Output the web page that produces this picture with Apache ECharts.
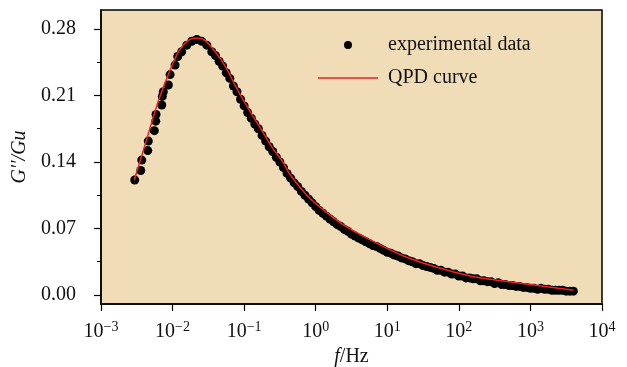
<!DOCTYPE html>
<html>
<head>
<meta charset="utf-8">
<script src="https://cdn.jsdelivr.net/npm/echarts@6/dist/echarts.min.js"></script>
<style>
  html, body { margin: 0; padding: 0; background: #fff; }
  #chart { width: 627px; height: 367px; }
</style>
</head>
<body>
<div id="chart"></div>
<script>
  // experimental data: frequency (Hz) and G''/Gu
  var expFreq = [
    0.00296, 0.00359, 0.00371, 0.00450, 0.00458, 0.00556, 0.00582, 0.00587,
    0.00706, 0.00719, 0.00743, 0.00873, 0.00923, 0.01084, 0.0118, 0.0134,
    0.0158, 0.0185, 0.0218, 0.0256, 0.0301, 0.0353,
    0.0398, 0.0501, 0.0631, 0.0794, 0.1, 0.126, 0.158, 0.2, 0.251, 0.316,
    0.398, 0.501, 0.631, 0.794, 1, 1.26, 1.58, 2.0, 2.51, 3.16,
    3.98, 5.01, 6.31, 7.94, 10, 12.6, 15.8, 20, 25.1, 31.6,
    39.8, 50.1, 63.1, 79.4, 100, 126, 158, 200, 251, 316,
    398, 501, 631, 794, 1000, 1260, 1580, 2000, 2510, 3160, 3980
  ];
  var expVal = [
    0.121, 0.131, 0.142, 0.152, 0.162, 0.173, 0.183, 0.190,
    0.200, 0.209, 0.214, 0.221, 0.232, 0.242, 0.251, 0.256,
    0.263, 0.267, 0.269, 0.267, 0.263, 0.256,
    0.252, 0.241, 0.228, 0.214, 0.199, 0.186, 0.175, 0.162, 0.151, 0.140,
    0.128, 0.118, 0.109, 0.101, 0.093, 0.086, 0.080, 0.074, 0.069, 0.064,
    0.060, 0.056, 0.052, 0.049, 0.045, 0.042, 0.039, 0.036, 0.033, 0.031,
    0.029, 0.026, 0.024, 0.022, 0.020, 0.018, 0.017, 0.015, 0.014, 0.012,
    0.011, 0.010, 0.009, 0.008, 0.007, 0.006, 0.006, 0.005, 0.005, 0.004, 0.004
  ];
  // second sweep of measured points on the falling side
  var expFreqB = [
    0.0447, 0.0562, 0.0708, 0.0891, 0.112, 0.141, 0.178, 0.224, 0.282, 0.355,
    0.447, 0.562, 0.708, 0.891, 1.12, 1.41, 1.78, 2.24, 2.82, 3.55,
    4.47, 5.62, 7.08, 8.91, 11.2, 14.1, 17.8, 22.4, 28.2, 35.5,
    44.7, 56.2, 70.8, 89.1, 112, 141, 178, 224, 282, 355,
    447, 562, 708, 891, 1120, 1410, 1780, 2240, 2820, 3550
  ];
  var expValB = [
    0.246, 0.234, 0.220, 0.206, 0.192, 0.180, 0.168, 0.156, 0.145, 0.134,
    0.123, 0.114, 0.105, 0.097, 0.089, 0.083, 0.077, 0.072, 0.067, 0.062,
    0.058, 0.054, 0.051, 0.047, 0.044, 0.041, 0.038, 0.035, 0.033, 0.030,
    0.028, 0.026, 0.024, 0.022, 0.020, 0.018, 0.017, 0.015, 0.014, 0.013,
    0.011, 0.010, 0.009, 0.008, 0.007, 0.007, 0.006, 0.005, 0.005, 0.004
  ];

  // QPD fitted curve
  var qpdFreq = [
    0.00292, 0.00412, 0.00632, 0.00873, 0.01205, 0.0166, 0.0218, 0.0284,
    0.0393, 0.0542, 0.0746, 0.103, 0.158, 0.243, 0.354, 0.439,
    0.752, 1.28, 2.44, 5.77, 16.8, 49.3, 144, 274, 721, 4010
  ];
  var qpdVal = [
    0.121, 0.158, 0.204, 0.232, 0.256, 0.268, 0.2705, 0.268,
    0.256, 0.241, 0.221, 0.202, 0.179, 0.156, 0.139, 0.1265,
    0.105, 0.0896, 0.0738, 0.058, 0.0411, 0.0292, 0.020, 0.0165, 0.0123, 0.005
  ];

  var xTicks = [0.001, 0.01, 0.1, 1, 10, 100, 1000, 10000];
  var yTicks = [0, 0.07, 0.14, 0.21, 0.28];
  var yMinorTicks = [0.035, 0.105, 0.175, 0.245];

  var serif = '"Liberation Serif", "DejaVu Serif", serif';

  function pairs(xs, ys) {
    var out = [];
    for (var i = 0; i < xs.length; i++) out.push([xs[i], ys[i]]);
    return out;
  }

  function powLabel(v) {
    var e = Math.round(Math.log10(v));
    var s = e < 0 ? '\u2212' + (-e) : String(e);
    return '{b|10}{s|' + s + '}';
  }

  var chart = echarts.init(document.getElementById('chart'));

  var option = {
    backgroundColor: '#fff',
    animation: false,
    grid: {
      left: 101, right: 25, top: 10, bottom: 63,
      show: true,
      backgroundColor: '#f0dcb6',
      borderColor: '#000',
      borderWidth: 1.5,
      containLabel: false,
      outerBoundsMode: 'none'
    },
    legend: {
      orient: 'vertical',
      left: 318,
      top: 35,
      padding: 0,
      itemWidth: 60,
      itemHeight: 8,
      itemGap: 13,
      textStyle: {
        fontFamily: serif, fontSize: 20, color: '#111',
        lineHeight: 20, padding: [0, 0, 0, 5]
      },
      data: [
        { name: 'experimental data', icon: 'circle' },
        { name: 'QPD curve', icon: 'path://M0,0h40v1h-40z' }
      ]
    },
    xAxis: {
      type: 'log',
      logBase: 10,
      min: 0.001,
      max: 10000,
      name: '{i|f}/Hz',
      nameLocation: 'middle',
      nameGap: 42,
      nameTextStyle: {
        fontFamily: serif, fontSize: 20, color: '#111',
        rich: { i: { fontFamily: serif, fontSize: 20, fontStyle: 'italic', color: '#111' } }
      },
      axisLine: { show: true, onZero: false, lineStyle: { color: '#000', width: 1.5 } },
      axisTick: {
        show: true, inside: false, length: 7,
        customValues: xTicks,
        lineStyle: { color: '#000', width: 1.2 }
      },
      axisLabel: {
        customValues: xTicks,
        margin: 16,
        formatter: powLabel,
        rich: {
          b: { fontFamily: serif, fontSize: 20, color: '#111', lineHeight: 22, verticalAlign: 'bottom' },
          s: { fontFamily: serif, fontSize: 14, color: '#111', lineHeight: 14, verticalAlign: 'top' }
        }
      },
      splitLine: { show: false },
      minorTick: { show: false }
    },
    yAxis: [
      {
        type: 'value',
        min: -0.0095,
        max: 0.30,
        name: 'G\u2032\u2032/Gu',
        nameLocation: 'middle',
        nameGap: 66,
        nameTextStyle: { fontFamily: serif, fontSize: 20, fontStyle: 'italic', color: '#111' },
        axisLine: { show: true, lineStyle: { color: '#000', width: 1.5 } },
        axisTick: {
          show: true, inside: false, length: 7,
          customValues: yTicks,
          lineStyle: { color: '#000', width: 1.2 }
        },
        axisLabel: {
          customValues: yTicks,
          margin: 25,
          fontFamily: serif, fontSize: 20, color: '#111',
          formatter: function (v) { return v.toFixed(2); }
        },
        splitLine: { show: false }
      },
      {
        type: 'value',
        min: -0.0095,
        max: 0.30,
        position: 'left',
        axisLine: { show: false },
        axisTick: {
          show: true, inside: false, length: 4,
          customValues: yMinorTicks,
          lineStyle: { color: '#000', width: 1 }
        },
        axisLabel: { show: false },
        splitLine: { show: false }
      }
    ],
    series: [
      {
        name: 'experimental data',
        type: 'scatter',
        symbol: 'circle',
        symbolSize: 9,
        itemStyle: { color: '#000', opacity: 1 },
        data: pairs(expFreq, expVal).concat(pairs(expFreqB, expValB)),
        z: 2
      },
      {
        name: 'QPD curve',
        type: 'line',
        showSymbol: false,
        symbol: 'none',
        smooth: 0.3,
        lineStyle: { color: '#f41f1f', width: 1.5 },
        itemStyle: { color: '#f41f1f' },
        data: pairs(qpdFreq, qpdVal),
        z: 3
      }
    ]
  };

  chart.setOption(option);
</script>
</body>
</html>
